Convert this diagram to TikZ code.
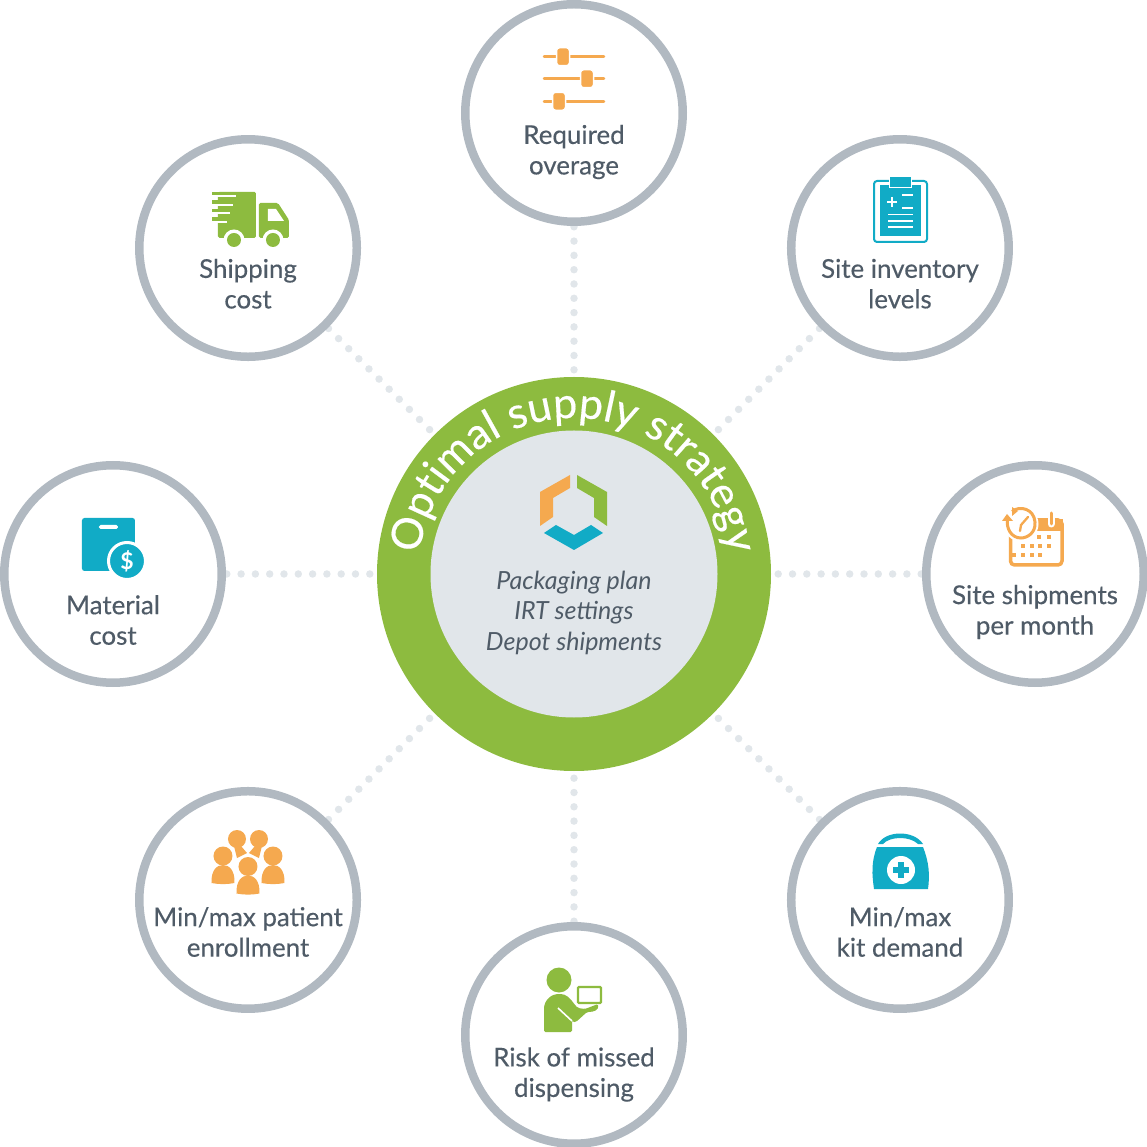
\documentclass[tikz,border=0pt]{standalone}
\usepackage{fontspec}
\setmainfont{Lato}
\newfontfamily\labfont{Lato}[FakeBold=0.35]
\usetikzlibrary{backgrounds,decorations.text}
\definecolor{ringgray}{HTML}{B1B9C1}
\definecolor{dotgray}{HTML}{E1E6EA}
\definecolor{txtgray}{HTML}{4F5B67}
\definecolor{leaf}{HTML}{8DBB3F}
\definecolor{amber}{HTML}{F5A94F}
\definecolor{teal}{HTML}{11ABC6}
\tikzset{
  sat/.style={circle,draw=ringgray,line width=8.5pt,fill=white,minimum size=217.5pt,inner sep=0pt},
  satlab/.style={align=center,text=txtgray,font=\labfont\fontsize{25.9}{30.5}\selectfont,inner sep=0pt},
  dotln/.style={draw=dotgray,line width=7.5pt,line cap=round,dash pattern=on 0pt off 14.3pt,shorten <=7pt,shorten >=-1pt},
  person/.pic={\fill (0,0) circle (9.5);
    \fill (-11.5,27) .. controls (-12,14) and (-6,9) .. (0,9) .. controls (6,9) and (12,14) .. (11.5,27) .. controls (4,28.5) and (-4,28.5) .. (-11.5,27) -- cycle;}
}
\begin{document}
\begin{tikzpicture}[x=1pt,y=1pt]
  \useasboundingbox (-574,574) rectangle (573,-573);
  \node(hub)[circle,fill=leaf,minimum size=394pt,inner sep=0pt]at(0,0){};
  \node(core)[circle,fill=dotgray,minimum size=287pt,inner sep=0pt]at(0,0){};
  \path[decorate,decoration={text along path,text align=center,text={|\color{white}\labfont\fontsize{43}{43}\selectfont|Optimal supply strategy}}]
    (-156,0) arc[start angle=180,end angle=0,radius=156];
  \node(plan)[align=center,text=txtgray,inner sep=0pt,font=\fontsize{25}{30.5}\selectfont\itshape]at(0,-38.5){Packaging plan\\IRT settings\\Depot shipments};
  \foreach\ang/\nm/\dy/\lab in{90/overage/39/{Required\\overage},45/inventory/35.7/{Site inventory\\levels},0/shipments/38/{Site shipments\\per month},
    -45/kit/32/{Min/max\\kit demand},-90/missed/39.5/{Risk of missed\\dispensing},-135/enroll/32/{Min/max patient\\enrollment},180/material/46/{Material\\cost},135/shipping/35.7/{Shipping\\cost}}{
    \node(\nm)[sat]at(\ang:461){};
    \node(\nm lab)[satlab]at([yshift=-\dy pt]\nm.center){\lab};
    \begin{scope}[on background layer]\draw[dotln](hub)--(\nm);\end{scope}}
  \begin{scope}[shift={(-574,574)},y=-1pt]
    % hub logo
    \fill[amber](570,475)--(570,488)--(553,498)--(553,517)--(540,526)--(540,492)--cycle;
    \fill[leaf](577,475)--(607,492)--(607,526)--(594,517)--(594,498)--(577,488)--cycle;
    \fill[teal](544,533)--(556,525)--(574,535)--(591,525)--(603,533)--(574,550)--cycle;
    % sliders
    \foreach\yy/\xx in{56.7/563,78.7/587,101.3/559}{
      \draw[amber,line width=2.5pt,line cap=round](544,\yy)--(604,\yy);
      \draw[amber,fill=amber,draw=white,line width=1.5pt,rounded corners=3pt](\xx-6.5,\yy-9)rectangle(\xx+6.5,\yy+9);}
    % truck
    \fill[leaf,rounded corners=1.5pt](218,192)--(256,192)--(256,238)--(218,238)--cycle;
    \foreach\yy/\xx in{192/236,200.5/233,209/230,217.5/227.5}{
      \fill[leaf](212,\yy)rectangle(220,\yy+3.2);
      \fill[white](212,\yy+3.2)rectangle(\xx,\yy+5.3);}
    \fill[leaf,rounded corners=1.5pt](259,203)--(278,203)--(289,220)--(289,238)--(259,238)--cycle;
    \fill[white](268,209)--(276,209)--(284,221)--(268,221)--cycle;
    \foreach\xx in{234,273}{\fill[white](\xx,240)circle(10.5);\fill[leaf](\xx,240)circle(7);}
    % clipboard
    \draw[teal,line width=2pt,rounded corners=3pt](874,181)rectangle(927,242);
    \fill[teal](880,185)rectangle(921,236);
    \fill[teal,draw=white,line width=1.5pt](889.5,176.5)rectangle(911.5,187.5);
    \draw[white,line width=2pt](887,202)--(897,202)(892,197)--(892,207);
    \foreach\yy in{195,208}{\draw[white,line width=1.7pt](902,\yy)--(913,\yy);}
    \foreach\yy in{214.5,221,227}{\draw[white,line width=1.7pt](888,\yy)--(913,\yy);}
    % calendar
    \draw[amber,line width=3.5pt,rounded corners=4pt](1010.5,520)rectangle(1062,565);
    \fill[amber](1010,519)rectangle(1063,531);
    \foreach\xx/\yy in{1039/537,1049/537,1023/546,1032/546,1040/546,1049/546,1014/555,1023/555,1032/555,1040/555}{
      \fill[amber](\xx-2.3,\yy-2.3)rectangle(\xx+2.3,\yy+2.3);}
    \fill[white](1021,524)circle(17.5);
    \draw[amber,line width=3pt](1012,511.5)..controls(1020,505)and(1034,509)..(1035,522)..controls(1036,533)and(1027,538)..(1021,538)..controls(1011,538)and(1006,528)..(1007.5,519);
    \fill[amber](1002,521)--(1013,521)--(1007,514)--cycle;
    \fill[amber](1012,507)--(1012,516)--(1018,511)--cycle;
    \draw[amber,line width=2.3pt,line cap=round](1028,517)--(1021,525)--(1020,531);
    \draw[white,line width=7pt,line cap=round](1051,513)--(1051,524);
    \draw[amber,line width=3pt,line cap=round](1051,513)--(1051,524);
    % bag with coin
    \fill[teal,rounded corners=2.5pt](82,518)--(135,518)--(135,571)--(82,571)--cycle;
    \fill[white,rounded corners=1.7pt](99,525)rectangle(118,529);
    \fill[teal,draw=white,line width=3pt](127,561)circle(18.5);
    \node(coin)[text=white,inner sep=0pt,font=\fontsize{23}{23}\selectfont\bfseries]at(127,561){\$};
    % people
    \fill[amber](234,846)--(237,858)--(247,853)--(241,846)--cycle;
    \fill[amber](262,846)--(259,858)--(249,853)--(255,846)--cycle;
    \fill[amber](237,839)circle(9);
    \fill[amber](259,839)circle(9);
    \begin{scope}[amber]
      \pic at(223,856){person};
      \pic at(273,856){person};
    \end{scope}
    \fill[white](248,866)circle(11.5);
    \fill[white](235,898)--(235,880)..controls(236,872)and(242,873)..(248,873)..controls(254,873)and(260,872)..(261,880)--(261,898)--cycle;
    \begin{scope}[amber]
      \pic at(248,866.5){person};
    \end{scope}
    % medical bag
    \fill[teal](877,847)--(923,847)..controls(929,862)and(930,875)..(928,889)--(874,889)..controls(872,875)and(871,862)..(877,847)--cycle;
    \fill[teal](878,844)..controls(886,830)and(914,830)..(923,844)--(918,844)..controls(910,836)and(890,836)..(883,844)--cycle;
    \fill[white](901,870)circle(14);
    \draw[teal,line width=6pt](893,870)--(909,870)(901,862)--(901,878);
    % person with screen
    \fill[leaf](559,980)circle(12.5);
    \fill[leaf,rounded corners=1.5pt](544,1032)--(544,1010)..controls(544,1000)and(552,994)..(559,994)..controls(566,994)and(570,998)..(575,1005)--(578,1008)--(585,1009)--(598,1004)..controls(599,1010)and(594,1012)..(587,1012)--(576,1022)..controls(573,1022)..(572,1020)--(572,1032)--cycle;
    \draw[white,line width=1.6pt](558,1008)--(572,1021);
    \draw[leaf,fill=white,line width=2.2pt,rounded corners=1pt](578,987)rectangle(601,1003);
  \end{scope}
\end{tikzpicture}
\end{document}
